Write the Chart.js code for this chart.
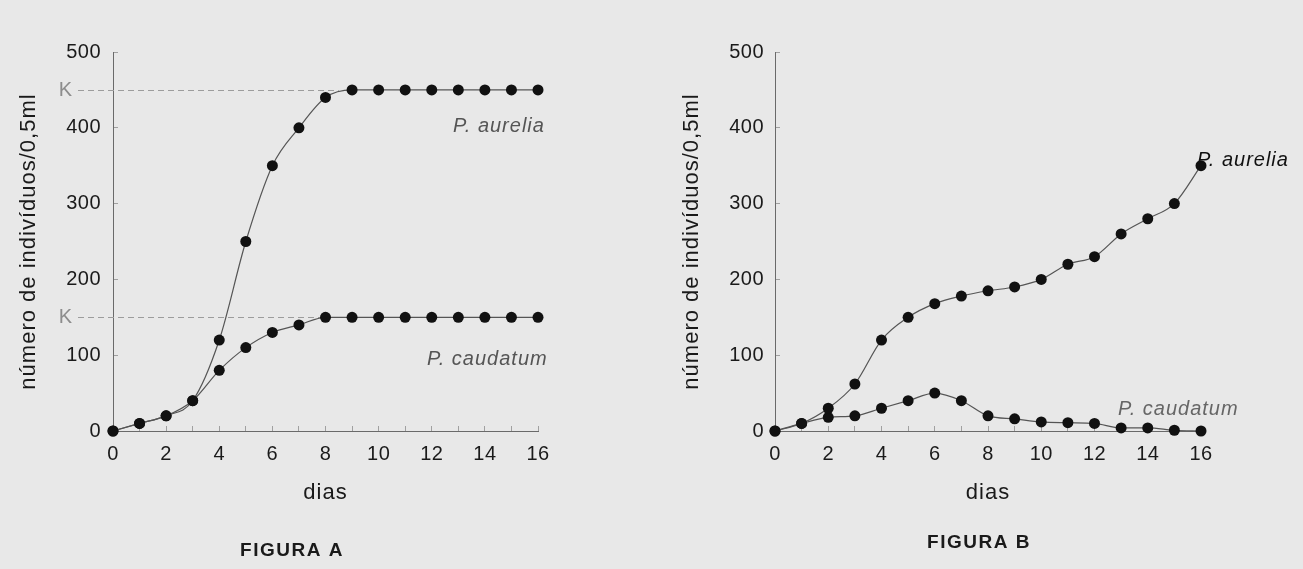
<!DOCTYPE html>
<html><head><meta charset="utf-8">
<script src="https://cdn.jsdelivr.net/npm/chart.js@4/dist/chart.umd.min.js"></script>
<style>
html,body{margin:0;padding:0;background:#e8e8e8;}
#wrap{position:relative;width:1303px;height:569px;overflow:hidden;background:#e8e8e8;}
#a{position:absolute;left:0;top:0;width:650px;height:569px;}
#b{position:absolute;left:650px;top:0;width:653px;height:569px;}
</style></head><body>
<div id="wrap">
<div id="a"><canvas id="ca" width="650" height="569"></canvas></div>
<div id="b"><canvas id="cb" width="653" height="569"></canvas></div>
</div>
<script>
// ---- data ----
const days = [0,1,2,3,4,5,6,7,8,9,10,11,12,13,14,15,16];
const aureliaA  = [0,10,20,40,120,250,350,400,440,450,450,450,450,450,450,450,450];
const caudatumA = [0,10,20,40,80,110,130,140,150,150,150,150,150,150,150,150,150];
const aureliaB  = [0,10,30,62,120,150,168,178,185,190,200,220,230,260,280,300,350];
const caudatumB = [0,10,18,20,30,40,50,40,20,16,12,11,10,4,4,1,0];
const carryingCapacityA = [450,150];
const xTickLabels = [0,2,4,6,8,10,12,14,16];
const yTickLabels = [0,100,200,300,400,500];
const seriesNames = ['P. aurelia','P. caudatum'];
const captions = ['FIGURA A','FIGURA B'];
const xTitle = 'dias';
const yTitle = 'número de indivíduos/0,5ml';

const FAM = '"Liberation Sans", Arial, Helvetica, sans-serif';
const toPts = arr => arr.map((v,i)=>({x:days[i], y:v}));

const annot = {
  id:'annot',
  beforeDraw(chart){ chart.ctx.letterSpacing = '1px'; },
  beforeDatasetsDraw(chart, args, o){
    const ctx = chart.ctx, xs = chart.scales.x, ys = chart.scales.y, ca = chart.chartArea;
    (o.kLines||[]).forEach(k=>{
      const y = Math.round(ys.getPixelForValue(k.value))+0.5;
      ctx.save();
      ctx.letterSpacing='0px';
      ctx.strokeStyle='#9c9c9c'; ctx.lineWidth=1; ctx.setLineDash([6,4]);
      ctx.beginPath(); ctx.moveTo(ca.left-35,y); ctx.lineTo(xs.getPixelForValue(k.toDay),y); ctx.stroke();
      ctx.setLineDash([]);
      ctx.fillStyle='#8c8c8c'; ctx.font='20px '+FAM; ctx.textAlign='right'; ctx.textBaseline='middle';
      ctx.fillText('K', ca.left-41, y);
      ctx.restore();
    });
  },
  afterDatasetsDraw(chart){ chart.ctx.letterSpacing = '0.5px'; },
  afterDraw(chart, args, o){
    const ctx = chart.ctx, xs = chart.scales.x, ys = chart.scales.y;
    ctx.save();
    (o.labels||[]).forEach(l=>{
      ctx.letterSpacing='1px';
      ctx.font='italic 20px '+FAM; ctx.fillStyle=l.color; ctx.textAlign='left'; ctx.textBaseline='middle';
      ctx.fillText(l.text, xs.getPixelForValue(l.day), ys.getPixelForValue(l.value));
    });
    if (o.caption){
      ctx.letterSpacing='1.5px';
      ctx.font='bold 19px '+FAM; ctx.fillStyle='#1a1a1a'; ctx.textAlign='center'; ctx.textBaseline='middle';
      ctx.fillText(o.caption, o.captionX, o.captionY);
    }
    ctx.restore();
    ctx.letterSpacing='0px';
  }
};

function makeChart(id, dsA, dsB, yWidth, padRight, yTitlePad, yTickPad, annotOpts){
  const ds = (data)=>({
    data: toPts(data), borderColor:'#555', borderWidth:1.2, cubicInterpolationMode:'monotone',
    pointRadius:5.5, pointHoverRadius:5.5, pointBackgroundColor:'#111', pointBorderColor:'#111', pointBorderWidth:0,
    clip:false, fill:false
  });
  return new Chart(document.getElementById(id), {
    type:'line',
    data:{ datasets:[ Object.assign(ds(dsA),{label:seriesNames[0]}), Object.assign(ds(dsB),{label:seriesNames[1]}) ] },
    options:{
      responsive:false, animation:false, events:[],
      layout:{padding:{left:0,right:padRight,top:52,bottom:0}},
      plugins:{legend:{display:false}, tooltip:{enabled:false}, annot:annotOpts},
      scales:{
        x:{type:'linear', min:0, max:16,
          afterFit(s){ s.height = 138; },
          ticks:{stepSize:1, autoSkip:false, maxRotation:0, padding:16, color:'#1a1a1a', z:1,
            font:{size:20, family:FAM}, callback:v=> xTickLabels.includes(v)? String(v):''},
          grid:{display:true, drawOnChartArea:false, drawTicks:true, tickLength:-5, color:'#a0a0a0'},
          border:{display:true, color:'#6a6a6a', width:1},
          title:{display:true, text:xTitle, color:'#1a1a1a', font:{size:22, family:FAM}, padding:{top:0,bottom:63}}
        },
        y:{min:0, max:500,
          afterFit(s){ s.width = yWidth; },
          ticks:{stepSize:100, padding:yTickPad, color:'#1a1a1a', z:1,
            font:{size:20, family:FAM}, callback:v=> yTickLabels.includes(v)? String(v):''},
          grid:{display:true, drawOnChartArea:false, drawTicks:true, tickLength:-5, color:'#a0a0a0'},
          border:{display:true, color:'#6a6a6a', width:1},
          title:{display:true, text:yTitle, color:'#1a1a1a', font:{size:22, family:FAM}, padding:{top:yTitlePad,bottom:0}}
        }
      }
    },
    plugins:[annot]
  });
}

makeChart('ca', aureliaA, caudatumA, 113, 112, 16, 17, {
  kLines:[{value:carryingCapacityA[0], toDay:8.5},{value:carryingCapacityA[1], toDay:8}],
  labels:[{text:seriesNames[0], day:12.8, value:402, color:'#555'},{text:seriesNames[1], day:11.82, value:94, color:'#555'}],
  caption:captions[0], captionX:292, captionY:551
});
makeChart('cb', aureliaB, caudatumB, 125, 102, 29, 16, {
  kLines:[],
  labels:[{text:seriesNames[0], day:15.85, value:357, color:'#111'},{text:seriesNames[1], day:12.88, value:28, color:'#666'}],
  caption:captions[1], captionX:329, captionY:543
});
</script>
</body></html>
